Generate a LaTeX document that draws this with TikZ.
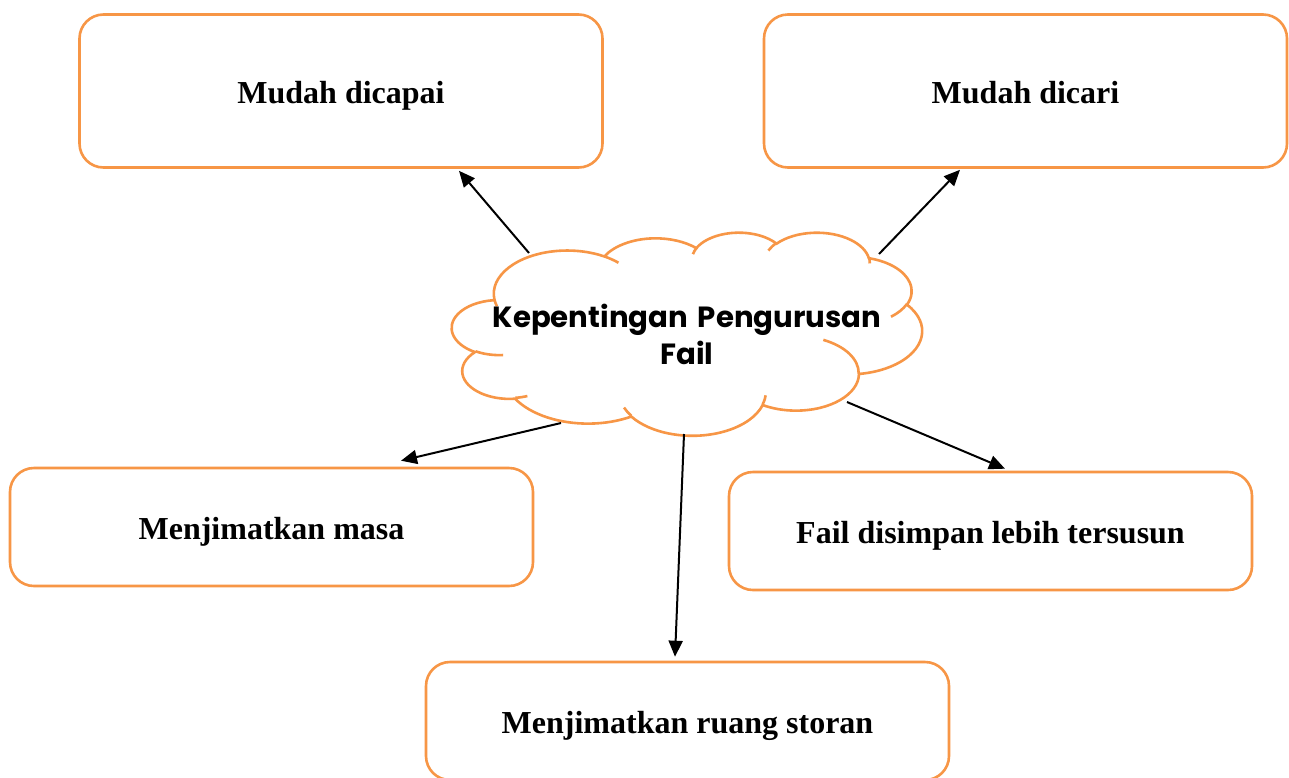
\documentclass[tikz,border=0pt]{standalone}
\usepackage{fontspec}
\setmainfont{Liberation Serif}
\newfontfamily\cloudfont{Poppins}
\usetikzlibrary{arrows.meta}
\definecolor{orng}{HTML}{F79646}
\newcommand\ooarc[4]{arc[x radius=#1, y radius=#2, start angle={ooT(#1,#2,#3)}, delta angle={ooD(#1,#2,#3,#4)}]}
\begin{document}
\begin{tikzpicture}[x=1pt,y=-1pt,
  declare function={
    ooT(\rwa,\rha,\sta)=atan2(\rwa*sin(\sta),\rha*cos(\sta));
    ooR(\rwa,\rha,\sta,\swa)=ooT(\rwa,\rha,\sta+\swa)-ooT(\rwa,\rha,\sta);
    ooD(\rwa,\rha,\sta,\swa)=ooR(\rwa,\rha,\sta,\swa)+360*((\swa>0)*(ooR(\rwa,\rha,\sta,\swa)<0)-(\swa<0)*(ooR(\rwa,\rha,\sta,\swa)>0));
  },
  box/.style={draw=orng, line width=2.6pt, rounded corners=24pt, fill=white,
    minimum width=523pt, minimum height=118pt, inner sep=0pt,
    text height=32pt, text depth=7pt,
    font=\fontsize{32}{38}\selectfont\bfseries},
  cloudline/.style={draw=orng, line width=2.6pt},
  arr/.style={-{Triangle[length=16pt,width=14pt]}, line width=2pt, black}]
\useasboundingbox (0,0) rectangle (1289,777);
\clip (0,0) rectangle (1289,777);
\fill[white] (0,0) rectangle (1289,777);

% boxes
\node[box, minimum height=153pt] (b1) at (341,91) {Mudah dicapai};
\node[box, minimum height=153pt] (b2) at (1025.5,91) {Mudah dicari};
\node[box] (b3) at (271.5,527) {Menjimatkan masa};
\node[box] (b4) at (990.5,531) {Fail disimpan lebih tersusun};
\node[box] (b5) at (687.5,721) {Menjimatkan ruang storan};

% cloud
\begin{scope}[shift={(452,232)}, x=1.088pt, y=-0.47pt]
\path[cloudline, fill=white] (39.00,143.70)
  \ooarc{67.53}{91.90}{-190.4875}{123.7805}
  \ooarc{53.33}{72.67}{-144.1024}{89.9452}
  \ooarc{43.65}{59.45}{-145.8079}{99.7230}
  \ooarc{48.57}{65.95}{-130.9861}{117.2417}
  \ooarc{53.33}{72.73}{-78.7089}{109.0269}
  \ooarc{67.75}{92.20}{-46.2673}{130.2690}
  \ooarc{57.85}{78.67}{0.6250}{114.0333}
  \ooarc{67.52}{92.15}{22.4516}{115.1726}
  \ooarc{77.20}{105.43}{66.2426}{75.7110}
  \ooarc{43.60}{59.18}{-274.9421}{146.7356}
  \ooarc{43.45}{59.45}{-246.8285}{152.5189}
  -- cycle;
\path[cloudline]
  (46.93,261.77) \ooarc{43.45}{59.45}{86.7420}{26.4295}
  (69.28,348.99) \ooarc{43.60}{59.18}{73.6105}{11.4475}
  (164.78,390.90) \ooarc{67.52}{92.15}{137.6242}{14.0811}
  (288.27,347.51) \ooarc{67.52}{92.15}{6.4533}{15.9984}
  (341.29,229.54) \ooarc{57.85}{78.67}{-70.2924}{70.9174}
  (417.98,153.54) \ooarc{53.33}{72.73}{30.3180}{27.7515}
  (383.24,54.26) \ooarc{48.57}{65.95}{-13.7443}{14.8589}
  (290.78,39.52) \ooarc{48.57}{65.95}{-149.1815}{18.1954}
  (221.41,47.20) \ooarc{43.65}{59.45}{-163.4943}{17.6864}
  (140.00,51.92) \ooarc{67.53}{91.90}{-66.7070}{12.3194}
  (41.27,157.89) \ooarc{67.53}{91.90}{157.6544}{11.8582};
\end{scope}
\node[align=center, inner sep=0pt, font=\cloudfont\bfseries\fontsize{29.2}{37}\selectfont] (cl) at (687,334) {Kepentingan\hspace{0.34em}Pengurusan\\Fail};

% arrow start points on the cloud
\coordinate (s1) at (529,253);
\coordinate (s2) at (879,254);
\coordinate (s3) at (561,423);
\coordinate (s4) at (847,402);
\coordinate (s5) at (684,434);

\draw[arr] (s1) -- ([xshift=118pt,yshift=-2pt]b1.south);
\draw[arr] (s2) -- ([xshift=-65.5pt,yshift=-1pt]b2.south);
\draw[arr] (s3) -- ([xshift=129.5pt,yshift=6pt]b3.north);
\draw[arr] (s4) -- ([xshift=14.5pt,yshift=2pt]b4.north);
\draw[arr] (s5) -- ([xshift=-12.5pt,yshift=4pt]b5.north);
\end{tikzpicture}
\end{document}
